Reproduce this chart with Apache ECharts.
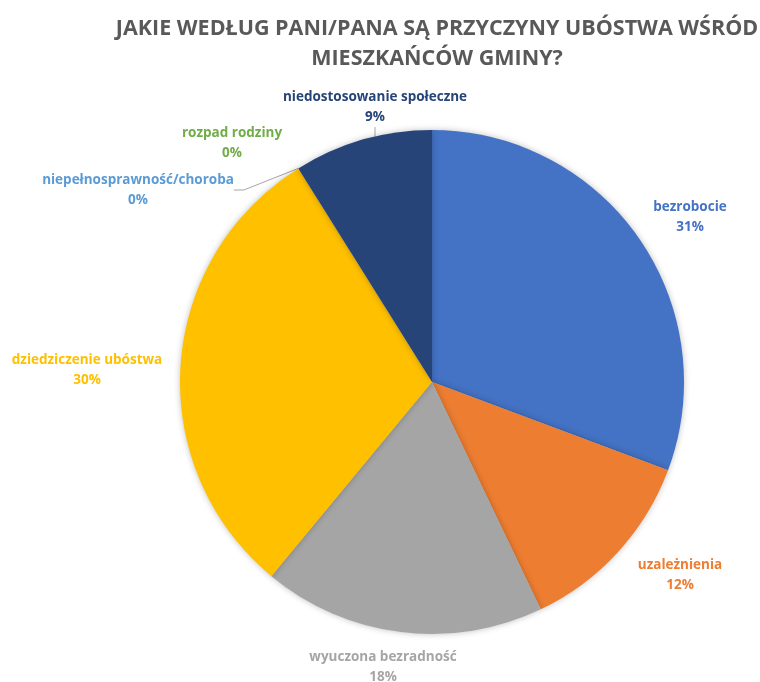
<!DOCTYPE html>
<html>
<head>
<meta charset="utf-8">
<script src="https://cdn.jsdelivr.net/npm/echarts@6/dist/echarts.min.js"></script>
<style>
    html, body { margin: 0; padding: 0; background: #fff; }
    #chart { width: 760px; height: 682px; }
</style>
</head>
<body>
<div id="chart"></div>
<script>
// dane
const categories = ['bezrobocie', 'uzależnienia', 'wyuczona bezradność', 'dziedziczenie ubóstwa',
    'niepełnosprawność/choroba', 'rozpad rodziny', 'niedostosowanie społeczne']
const values = [30.7, 12.2, 18.1, 30.1, 0, 0, 8.9]
const colors = ['#4472C4', '#ED7D31', '#A5A5A5', '#FFC000', '#5B9BD5', '#70AD47', '#264478']

// pozycje etykiet (środek bloku tekstu)
const labelPos = [[690, 217], [680, 575], [383, 667], [87, 370], [138, 190], [232, 143], [375, 107]]
const withLine = [false, false, false, false, true, false, true]

const chart = echarts.init(document.getElementById('chart'))

const data = categories.map((name, i) => ({
    name,
    value: values[i],
    itemStyle: { color: colors[i] },
    label: { color: colors[i] },
    labelLine: { show: withLine[i] }
}))

chart.setOption({
    backgroundColor: '#fff',
    title: {
        text: 'JAKIE WEDŁUG PANI/PANA SĄ PRZYCZYNY UBÓSTWA WŚRÓD\nMIESZKAŃCÓW GMINY?',
        left: 432,
        textAlign: 'center',
        top: 9,
        textStyle: {
            fontFamily: 'Open Sans',
            fontSize: 21.5,
            fontWeight: 'bold',
            color: '#595959',
            lineHeight: 30
        }
    },
    series: [{
        type: 'pie',
        center: [432, 382],
        radius: 252,
        startAngle: 90,
        clockwise: true,
        percentPrecision: 0,
        animation: false,
        itemStyle: {
            borderWidth: 0,
            shadowBlur: 6,
            shadowColor: 'rgba(0,0,0,0.25)'
        },
        label: {
            show: true,
            position: 'outside',
            formatter: '{b}\n{d}%',
            fontFamily: 'Open Sans',
            fontSize: 13.5,
            fontWeight: 'bold',
            lineHeight: 20,
            align: 'center'
        },
        labelLine: {
            length: 10,
            length2: 10,
            lineStyle: { color: '#A6A6A6', width: 1 }
        },
        labelLayout: (p) => ({
            x: labelPos[p.dataIndex][0],
            y: labelPos[p.dataIndex][1],
            align: 'center',
            verticalAlign: 'middle'
        }),
        data
    }]
})
</script>
</body>
</html>
